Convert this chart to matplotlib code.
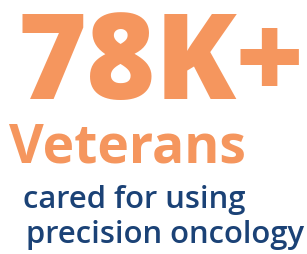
import matplotlib.pyplot as plt

# text lines of the stat block
headline = "78K+"
subhead = "Veterans"
caption = ["cared for using", "precision oncology"]

orange = "#F5965E"
navy = "#1B4276"

W, H = 307, 255
fig = plt.figure(figsize=(W / 100, H / 100), dpi=100)
fig.patch.set_facecolor("white")

def px(x, y):
    # pixel coords (top-left origin) -> figure fraction
    return x / W, 1 - y / H

fig.text(*px(18, 99), headline, color=orange, fontsize=85, fontweight="heavy",
         family="Open Sans", ha="left", va="baseline")
fig.text(*px(9, 163), subhead, color=orange, fontsize=38.5, fontweight="bold",
         family="Open Sans", ha="left", va="baseline")
fig.text(*px(23, 208), caption[0], color=navy, fontsize=22.3, fontweight="semibold",
         family="Open Sans", ha="left", va="baseline")
fig.text(*px(26, 243), caption[1], color=navy, fontsize=22.3, fontweight="semibold",
         family="Open Sans", ha="left", va="baseline")

fig.savefig("out.png", dpi=100)
